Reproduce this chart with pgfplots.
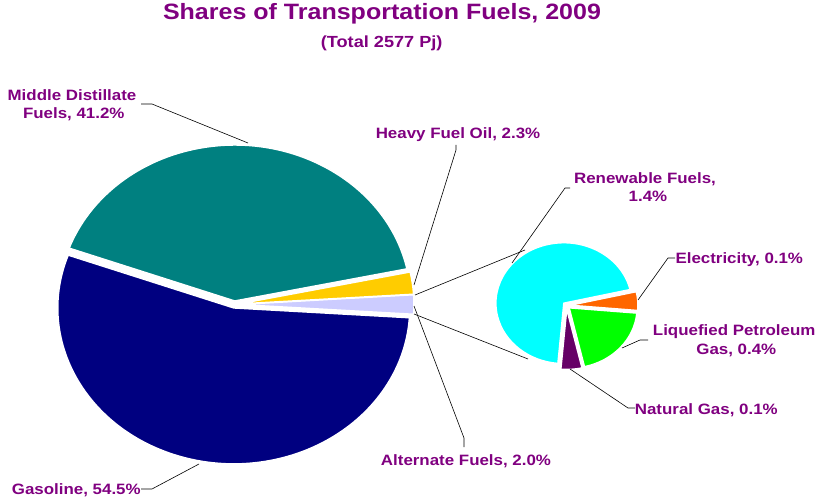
\documentclass[border=0pt]{standalone}
\usepackage{fontspec}
\setmainfont{Liberation Sans}[FakeStretch=1.127]
\usepackage{pgfplots}
\pgfplotsset{compat=1.18}
\usetikzlibrary{calc}
\definecolor{cTeal}{HTML}{008080}
\definecolor{cNavy}{HTML}{000080}
\definecolor{cGold}{HTML}{FFCC00}
\definecolor{cLav}{HTML}{CCCCFF}
\definecolor{cCyan}{HTML}{00FFFF}
\definecolor{cOrange}{HTML}{FF6600}
\definecolor{cLime}{HTML}{00FF00}
\definecolor{cPlum}{HTML}{660066}
\definecolor{cText}{HTML}{800080}
% data (percent of total 2577 PJ)
\def\vGas{54.5}\def\vMid{41.2}\def\vHfo{2.3}\def\vAlt{2.0}
\def\vRen{1.4}\def\vEle{0.1}\def\vLpg{0.4}\def\vNg{0.1}
\def\sA{13}
% color, cx, cy, start, end, rx, ry, explode
\newcommand{\slice}[8]{%
  \fill[#1, draw=white, line width=1.5pt, line join=round]
    ($(axis cs:#2,#3)+({((#4)+(#5))/2}:#8pt)$) -- ++({#4}:#6pt and #7pt)
    arc[start angle={#4}, end angle={#5}, x radius=#6pt, y radius=#7pt] -- cycle;}
\tikzset{lab/.style={font=\bfseries\fontsize{15}{18}\selectfont, text=cText, anchor=base, inner sep=0pt}}
\begin{document}
\begin{tikzpicture}
\begin{axis}[x=1pt, y=1pt, xmin=0, xmax=823, ymin=0, ymax=499, hide axis, clip=false, disabledatascaling, anchor=origin, at={(0pt,0pt)}]
% main pie
\slice{cLav}{234.5}{194.5}{-1.8*\vAlt}{1.8*\vAlt}{176}{156}{3.5}
\slice{cGold}{234.5}{194.5}{1.8*\vAlt}{1.8*\vAlt+3.6*\vHfo}{176}{156}{3.5}
\slice{cTeal}{234.5}{194.5}{1.8*\vAlt+3.6*\vHfo}{1.8*\vAlt+3.6*(\vHfo+\vMid)}{176}{156}{3.5}
\slice{cNavy}{234.5}{194.5}{1.8*\vAlt+3.6*(\vHfo+\vMid)}{1.8*\vAlt+3.6*(\vHfo+\vMid+\vGas)}{176}{156}{3.5}
% secondary pie
\slice{cCyan}{566.5}{193.5}{\sA}{\sA+360*\vRen/\vAlt}{68}{60.5}{3.5}
\slice{cPlum}{566.5}{193.5}{\sA+360*\vRen/\vAlt}{\sA+360*(\vRen+\vNg)/\vAlt}{68}{60.5}{3.5}
\slice{cLime}{566.5}{193.5}{\sA+360*(\vRen+\vNg)/\vAlt}{\sA+360*(\vRen+\vNg+\vLpg)/\vAlt}{68}{60.5}{3.5}
\slice{cOrange}{566.5}{193.5}{\sA+360*(\vRen+\vNg+\vLpg)/\vAlt}{\sA+360*(\vRen+\vNg+\vLpg+\vEle)/\vAlt}{68}{60.5}{3.5}
% leader and series lines
\addplot[black, line width=0.6pt, no markers] coordinates {(141,395) (152,395) (248,356)};
\addplot[black, line width=0.6pt, no markers] coordinates {(456,354) (456,349) (414,214)};
\addplot[black, line width=0.6pt, no markers] coordinates {(414,193) (464,61) (464,52)};
\addplot[black, line width=0.6pt, no markers] coordinates {(141,10) (152,10) (199,35)};
\addplot[black, line width=0.6pt, no markers] coordinates {(570,311) (565,311) (512,236)};
\addplot[black, line width=0.6pt, no markers] coordinates {(675,241) (668,241) (638,199)};
\addplot[black, line width=0.6pt, no markers] coordinates {(648,159) (640,159) (622,151)};
\addplot[black, line width=0.6pt, no markers] coordinates {(570,130) (628,91) (635,91)};
\addplot[black, line width=0.6pt, no markers] coordinates {(415,204) (525,249)};
\addplot[black, line width=0.6pt, no markers] coordinates {(414,185) (528,140)};
% titles
\node[font=\bfseries\fontsize{22.2}{26}\selectfont, text=cText, anchor=base, inner sep=0pt] at (axis cs:382,479) {Shares of Transportation Fuels, 2009};
\node[font=\bfseries\fontsize{16.1}{19}\selectfont, text=cText, anchor=base, inner sep=0pt] at (axis cs:381.7,451.3) {(Total 2577 Pj)};
% labels
\node[lab] at (axis cs:72,398.3) {Middle Distillate};
\node[lab] at (axis cs:73.8,380.7) {Fuels, 41.2\%};
\node[lab] at (axis cs:458,360.7) {Heavy Fuel Oil, 2.3\%};
\node[lab] at (axis cs:645,315.7) {Renewable Fuels,};
\node[lab] at (axis cs:648,297.3) {1.4\%};
\node[lab] at (axis cs:739.3,235.7) {Electricity, 0.1\%};
\node[lab] at (axis cs:734.2,163.3) {Liquefied Petroleum};
\node[lab] at (axis cs:736.3,144.7) {Gas, 0.4\%};
\node[lab] at (axis cs:706.3,84.7) {Natural Gas, 0.1\%};
\node[lab] at (axis cs:466,33.3) {Alternate Fuels, 2.0\%};
\node[lab] at (axis cs:76.3,4.5) {Gasoline, 54.5\%};
\end{axis}
\pgfresetboundingbox
\path[use as bounding box] (0pt,0pt) rectangle (823pt,499pt);
\end{tikzpicture}
\end{document}
